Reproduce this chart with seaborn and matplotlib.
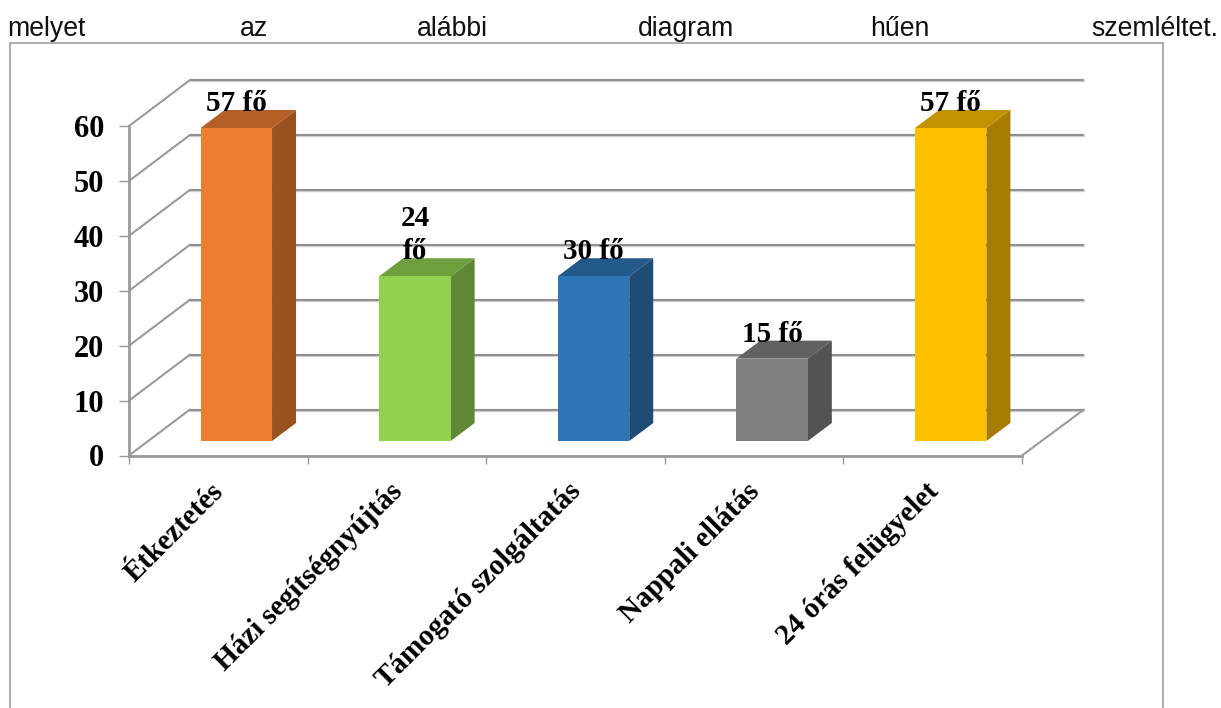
import matplotlib
matplotlib.use("Agg")
import matplotlib.pyplot as plt
import numpy as np
import pandas as pd
import seaborn as sns
from matplotlib.lines import Line2D
from matplotlib.patches import Polygon
from matplotlib.transforms import Affine2D

categories = ["Étkeztetés", "Házi segítségnyújtás", "Támogató szolgáltatás", "Nappali ellátás", "24 órás felügyelet"]
values = [57, 30, 30, 15, 57]
bar_labels = ["57 fő", "24\nfő", "30 fő", "15 fő", "57 fő"]
bar_colors = ["#ED7D31", "#92D050", "#2E75B6", "#7F7F7F", "#FFC000"]
y_ticks = [0, 10, 20, 30, 40, 50, 60]
header_words = ["melyet", "az", "alábbi", "diagram", "hűen", "szemléltet."]
header_x = [7, 240, 417, 638, 870, 1091]

W, H = 1221, 708
GRID = "#8f8f8f"
SERIF = "Liberation Serif"


def shade(color, factor):
    return tuple(c * factor for c in matplotlib.colors.to_rgb(color))


def fig_line(fig, x0, y0, x1, y1, **kw):
    # pixel coords from the top left of the image
    fig.add_artist(Line2D([x0 / W, x1 / W], [1 - y0 / H, 1 - y1 / H], transform=fig.transFigure, **kw))


sns.set_theme(style="white")
plt.rcParams["font.family"] = ["Liberation Sans", "DejaVu Sans"]

fig = plt.figure(figsize=(W / 100, H / 100), dpi=100, facecolor="white")
ax = fig.add_axes([129 / W, 1 - 455.5 / H, 893 / W, 329.5 / H])

df = pd.DataFrame({"category": categories, "value": values})
sns.barplot(df, x="category", y="value", hue="category", palette=bar_colors,
            width=0.4, saturation=1, legend=False, ax=ax, zorder=4, linewidth=0)
ax.set_xlim(-0.5, 4.5)
ax.set_ylim(0, 60)
ax.set_xlabel(None)
ax.set_ylabel(None)

# Back wall and left wall
back = ax.transData + Affine2D().translate(61, 46)
for tick in y_ticks:
    ax.plot([-0.5, 4.5], [tick, tick], transform=back, color="#cfcfcf", lw=2.4, zorder=1, clip_on=False)
    ax.plot([-0.5, 4.5], [tick, tick], transform=back, color=GRID, lw=1.4, zorder=1.1, clip_on=False)
    x0, y0 = ax.transData.transform((-0.5, tick))
    ax.plot([x0, x0 + 61], [y0, y0 + 46], transform=None, color="#9a9a9a", lw=1.5, zorder=1.1, clip_on=False)
x0, y0 = ax.transData.transform((4.5, 0))
ax.plot([x0, x0 + 62], [y0, y0 + 46], transform=None, color="#9a9a9a", lw=1.5, zorder=1.1, clip_on=False)

# Bars sit in the middle of the floor depth, front face plus side and top
shift = Affine2D().translate(18, 14.5)
depth_x, depth_y = 24, 18
for bar, value, label, color in zip(ax.patches, values, bar_labels, bar_colors):
    bar.set_transform(ax.transData + shift)
    bar.set_clip_on(False)
    left = bar.get_x()
    right = left + bar.get_width()
    (lx, by), (rx, ty) = (ax.transData + shift).transform([(left, 0), (right, value)])
    side = [(rx, by), (rx + depth_x, by + depth_y), (rx + depth_x, ty + depth_y), (rx, ty)]
    top = [(lx, ty), (rx, ty), (rx + depth_x, ty + depth_y), (lx + depth_x, ty + depth_y)]
    ax.add_patch(Polygon(side, closed=True, transform=None, color=shade(color, 0.65), lw=0, zorder=3.5, clip_on=False))
    ax.add_patch(Polygon(top, closed=True, transform=None, color=shade(color, 0.76), lw=0, zorder=3.5, clip_on=False))
    # label lines stacked upward from the baseline above the bar
    for n, line in enumerate(reversed(label.split("\n"))):
        ax.text((lx + rx) / 2, ty + 17 + 33 * n, line, transform=None, ha="center", va="baseline",
                family=SERIF, weight="bold", fontsize=21, color="black", zorder=6, clip_on=False)

# Axes
for name in ["top", "right"]:
    ax.spines[name].set_visible(False)
for name in ["left", "bottom"]:
    ax.spines[name].set_color("#9a9a9a")
    ax.spines[name].set_linewidth(2)
    ax.spines[name].set_zorder(2)
ax.set_yticks(y_ticks)
ax.set_yticklabels([str(t) for t in y_ticks], family=SERIF, weight="bold", fontsize=22, color="black")
ax.tick_params(axis="y", left=True, length=7, width=1, color="#9a9a9a", pad=11)
ax.set_xticks(range(len(categories)))
ax.set_xticklabels(categories, rotation=45, ha="right", rotation_mode="anchor",
                   family=SERIF, weight="bold", fontsize=21, color="black")
ax.tick_params(axis="x", which="major", bottom=False, length=0, pad=16)
ax.set_xticks(np.arange(-0.5, 5), minor=True)
ax.tick_params(axis="x", which="minor", bottom=True, length=6, width=1, color="#9a9a9a")
for tick_label in ax.get_xticklabels():
    tick_label.set_transform(tick_label.get_transform() + Affine2D().translate(-8, 0))

# Surrounding chart frame, runs off the bottom of the image
frame = dict(color="#a0a0a0", lw=1.2)
fig_line(fig, 10, 43, 10, H, **frame)
fig_line(fig, 10, 43, 1162.5, 43, **frame)
fig_line(fig, 1162.5, 43, 1162.5, H, **frame)

# Justified line of body text above the chart
for word, x in zip(header_words, header_x):
    fig.text(x / W, 1 - 36 / H, word, ha="left", va="baseline", fontsize=19.2, color="#111111")

fig.savefig("out.png", dpi=100)
